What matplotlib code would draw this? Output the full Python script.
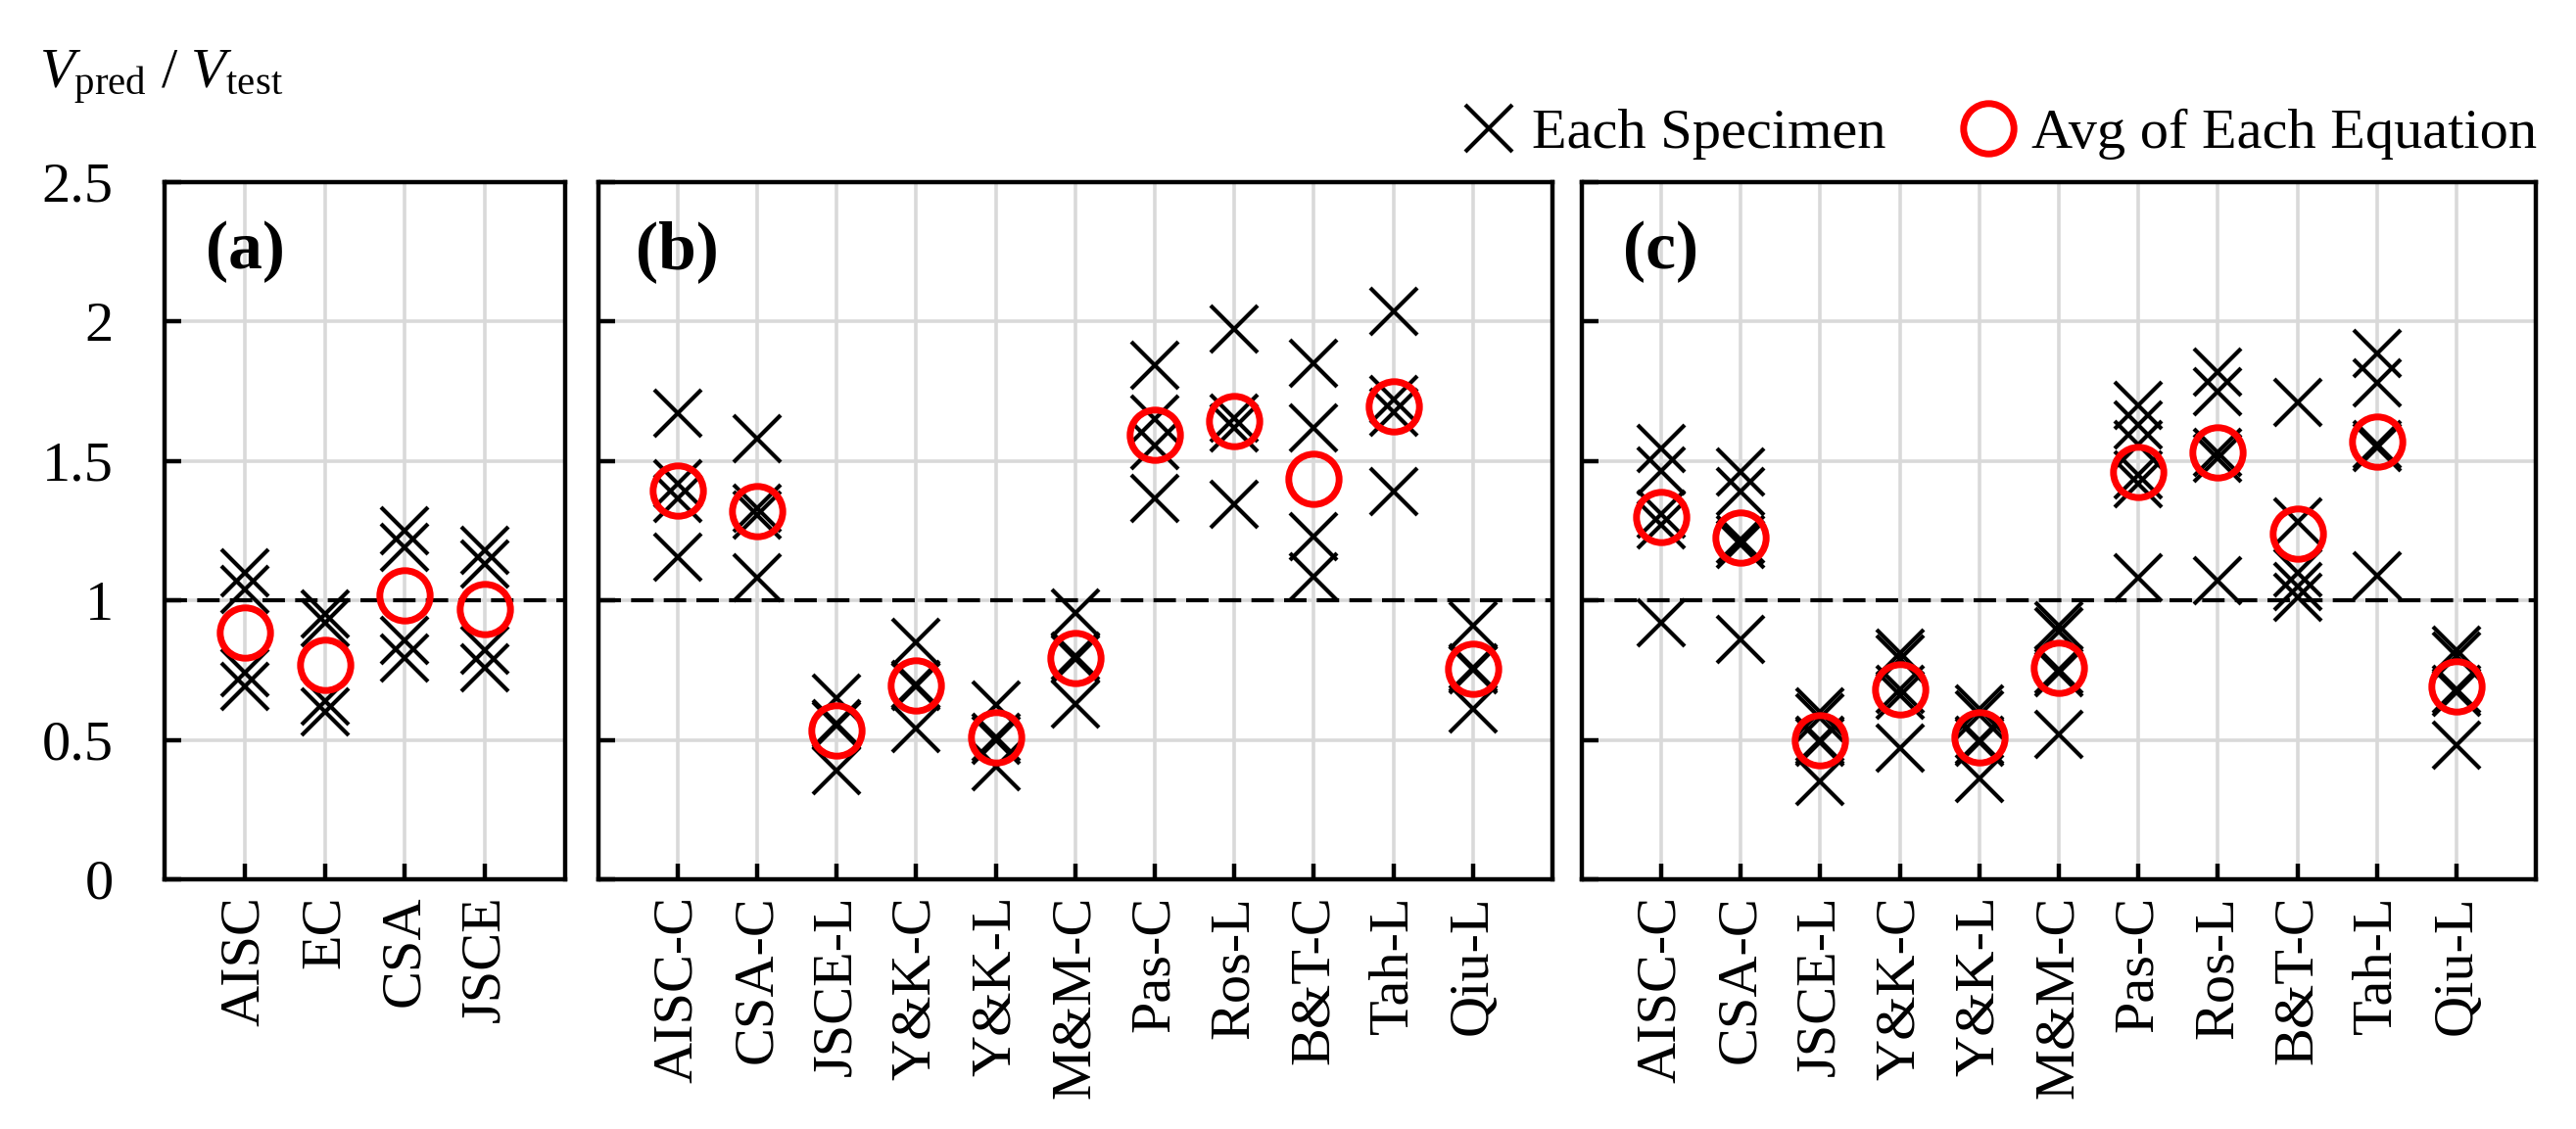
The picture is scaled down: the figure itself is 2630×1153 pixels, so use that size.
import numpy as np
import matplotlib
matplotlib.use('Agg')
import matplotlib.pyplot as plt
from matplotlib.lines import Line2D

plt.rcParams['font.family'] = ['Liberation Serif', 'DejaVu Serif']
plt.rcParams['mathtext.fontset'] = 'custom'
plt.rcParams['mathtext.rm'] = 'Liberation Serif'
plt.rcParams['mathtext.it'] = 'Liberation Serif:italic'

# (a) code equations
names_a = ['AISC', 'EC', 'CSA', 'JSCE']
spec_a = [[1.10, 1.04, 0.74, 0.69],
          [0.95, 0.92, 0.64, 0.60],
          [1.25, 1.19, 0.855, 0.795],
          [1.18, 1.13, 0.82, 0.76]]
avg_a = [0.885, 0.77, 1.02, 0.97]

# (b), (c) proposed equations
names_bc = ['AISC-C', 'CSA-C', 'JSCE-L', 'Y&K-C', 'Y&K-L', 'M&M-C',
            'Pas-C', 'Ros-L', 'B&T-C', 'Tah-L', 'Qiu-L']
spec_b = [[1.67, 1.42, 1.365, 1.155],
          [1.58, 1.33, 1.305, 1.08],
          [0.65, 0.56, 0.55, 0.39],
          [0.85, 0.70, 0.69, 0.54],
          [0.625, 0.51, 0.50, 0.405],
          [0.955, 0.80, 0.79, 0.63],
          [1.845, 1.65, 1.555, 1.365],
          [1.975, 1.655, 1.62, 1.345],
          [1.85, 1.62, 1.23, 1.085],
          [2.035, 1.72, 1.675, 1.39],
          [0.91, 0.76, 0.75, 0.61]]
avg_b = [1.395, 1.32, 0.535, 0.695, 0.51, 0.795, 1.595, 1.645, 1.435, 1.695, 0.755]

spec_c = [[1.545, 1.465, 1.31, 1.27, 0.92],
          [1.46, 1.39, 1.22, 1.20, 0.86],
          [0.60, 0.58, 0.50, 0.49, 0.35],
          [0.81, 0.79, 0.68, 0.66, 0.47],
          [0.61, 0.59, 0.50, 0.49, 0.36],
          [0.91, 0.89, 0.75, 0.74, 0.52],
          [1.70, 1.63, 1.56, 1.45, 1.42, 1.08],
          [1.82, 1.75, 1.53, 1.51, 1.07],
          [1.71, 1.28, 1.10, 1.05, 1.01],
          [1.885, 1.78, 1.56, 1.55, 1.09],
          [0.82, 0.80, 0.68, 0.67, 0.48]]
avg_c = [1.30, 1.225, 0.50, 0.68, 0.51, 0.76, 1.46, 1.53, 1.24, 1.57, 0.69]

yticks = [0, 0.5, 1, 1.5, 2, 2.5]
ytick_labels = ['0', '0.5', '1', '1.5', '2', '2.5']

W, H = 2630, 1153
fig = plt.figure(figsize=(W / 100, H / 100), dpi=100)


def add_ax(x0, x1, y0=186, y1=898):
    return fig.add_axes([x0 / W, 1 - y1 / H, (x1 - x0) / W, (y1 - y0) / H])


X_KW = dict(ls='none', marker='x', ms=35, mew=3.0, color='black')
O_KW = dict(ls='none', marker='o', ms=37, mew=5.0, mfc='none', mec='#ff0000')


def draw(ax, names, spec, avg, tag, show_y):
    n = len(names)
    for i, vals in enumerate(spec):
        ax.plot([i] * len(vals), vals, zorder=3, **X_KW)
    ax.plot(np.arange(n), avg, zorder=4, **O_KW)
    ax.axhline(1.0, color='black', lw=3.0, ls=(0, (5.5, 2.5)), zorder=2)
    ax.set_xlim(-1, n)
    ax.set_ylim(0, 2.5)
    ax.set_xticks(np.arange(n))
    ax.set_xticklabels(names, rotation=90)
    ax.set_yticks(yticks)
    ax.set_yticklabels(ytick_labels if show_y else [])
    ax.grid(True, color='#d9d9d9', lw=2.6)
    ax.set_axisbelow(True)
    ax.tick_params(axis='x', direction='in', length=11.5, width=3.2, labelsize=42, pad=12)
    ax.tick_params(axis='y', direction='in', length=12, width=3.2, labelsize=42, pad=38)
    for s in ax.spines.values():
        s.set_linewidth(3.2)
    ax.text(0, 2.25, tag, ha='center', va='center', fontsize=50, fontweight='bold')


ax_a = add_ax(168.3, 576.7)
ax_b = add_ax(610.5, 1585)
ax_c = add_ax(1614.6, 2589.4)
draw(ax_a, names_a, spec_a, avg_a, '(a)', True)
draw(ax_b, names_bc, spec_b, avg_b, '(b)', False)
draw(ax_c, names_bc, spec_c, avg_c, '(c)', False)

fig.text(40 / W, 1 - 90 / H, r'$V_{\rm pred}$ / $V_{\rm test}$', fontsize=42,
         ha='left', va='baseline')

h1 = Line2D([], [], **X_KW)
h2 = Line2D([], [], **O_KW)
fig.legend([h1, h2], ['Each Specimen', 'Avg of Each Equation'],
           loc='center right', bbox_to_anchor=(2590 / W, 1 - 137 / H),
           ncol=2, frameon=False, fontsize=42, handlelength=0.8,
           handletextpad=0.35, columnspacing=1.4, borderpad=0, borderaxespad=0)

fig.savefig('out.png', dpi=100)
